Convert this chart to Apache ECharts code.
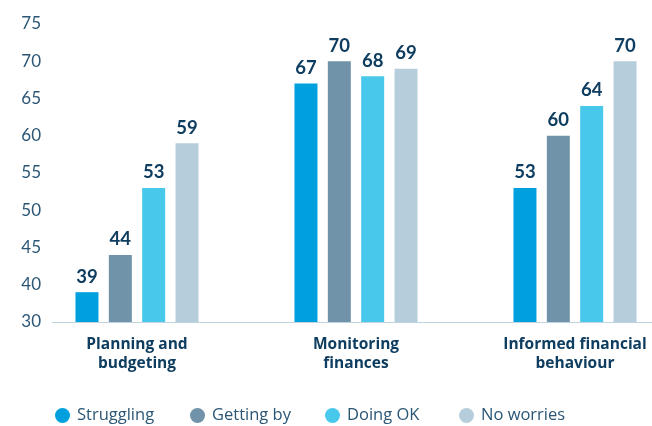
<!DOCTYPE html>
<html>
<head>
<meta charset="utf-8">
<script src="https://cdn.jsdelivr.net/npm/echarts@6/dist/echarts.min.js"></script>
<style>html,body{margin:0;padding:0;background:#fff}#c{width:652px;height:426px}</style>
</head>
<body>
<div id="c"></div>
<script>
const categories = ['Planning and\nbudgeting', 'Monitoring\nfinances', 'Informed financial\nbehaviour'];
const seriesNames = ['Struggling', 'Getting by', 'Doing OK', 'No worries'];
const struggling = [39, 67, 53];
const gettingBy = [44, 70, 60];
const doingOk = [53, 68, 64];
const noWorries = [59, 69, 70];
const yTicks = [35, 40, 45, 50, 55, 60, 65, 70, 75];
const yTickLabels = ['30', '40', '45', '50', '55', '60', '65', '70', '75'];

const colors = ['#00a0df', '#7093a9', '#48c8eb', '#b6cedc'];
const values = [struggling, gettingBy, doingOk, noWorries];
const navy = '#0e3d60';
const legendLefts = [50, 185, 320, 454];

const chart = echarts.init(document.getElementById('c'), null, {renderer: 'canvas'});
chart.setOption({
  animation: false,
  color: colors,
  grid: [
    {left: 137, right: 77, top: 24, bottom: 104},
    {left: 52, right: 0, top: 24, bottom: 104}
  ],
  legend: seriesNames.map((n, i) => ({
    left: legendLefts[i], top: 402,
    icon: 'circle', itemWidth: 15, itemHeight: 15,
    textStyle: {fontFamily: 'Open Sans', fontSize: 16.5, color: '#2b5675', padding: [0, 0, 0, 2]},
    data: [n]
  })),
  xAxis: [
    {
      type: 'category', gridIndex: 0, data: categories, boundaryGap: false,
      axisLine: {show: false}, axisTick: {show: false},
      axisLabel: {fontFamily: 'Open Sans', fontWeight: 'bold', fontSize: 15.5, color: navy, lineHeight: 19, margin: 13, interval: 0}
    },
    {
      type: 'value', gridIndex: 1, min: 0, max: 1,
      axisLine: {show: true, lineStyle: {color: '#bdd3df', width: 1}},
      axisTick: {show: false}, axisLabel: {show: false}, splitLine: {show: false}
    }
  ],
  yAxis: [
    {
      type: 'value', gridIndex: 0, min: yTicks[0], max: yTicks[yTicks.length - 1], interval: 5,
      axisLine: {show: false}, axisTick: {show: false}, splitLine: {show: false},
      axisLabel: {
        fontFamily: 'Lato', fontSize: 17, color: '#2b5675', margin: 96,
        formatter: v => { const i = yTicks.indexOf(v); return i >= 0 ? yTickLabels[i] : ''; }
      }
    },
    {type: 'value', gridIndex: 1, show: false, min: 0, max: 1}
  ],
  series: seriesNames.map((n, i) => ({
    name: n, type: 'bar', xAxisIndex: 0, yAxisIndex: 0,
    data: values[i], barWidth: 23, barGap: '45%',
    itemStyle: {color: colors[i]},
    label: {show: true, position: 'top', distance: 6, fontFamily: 'Lato', fontWeight: 'bold', fontSize: 18.5, color: navy}
  }))
});
</script>
</body>
</html>
